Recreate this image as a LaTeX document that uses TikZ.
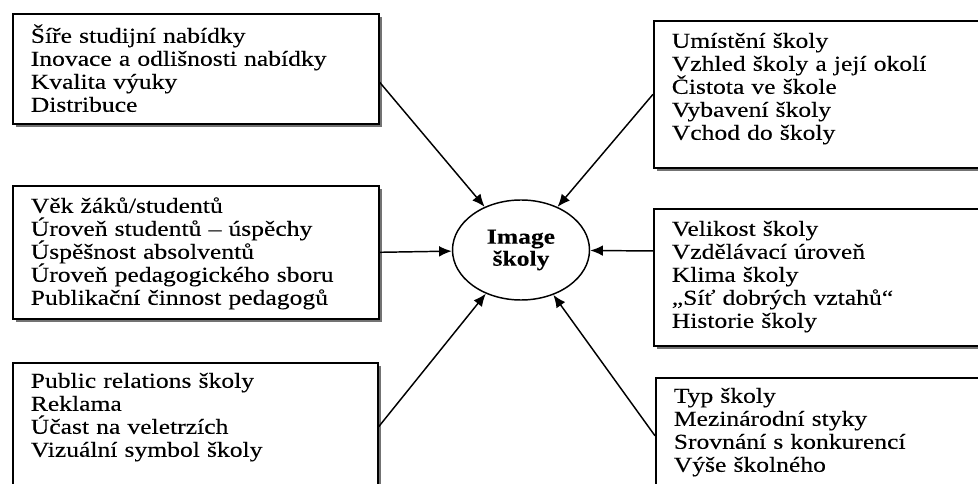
\documentclass[tikz,border=0pt]{standalone}
\usepackage{fontspec}
\setmainfont{Liberation Serif}[FakeStretch=1.2,FakeBold=0.15]
\usetikzlibrary{shapes.geometric,shadows,arrows.meta,calc}

\tikzset{every picture/.style={line width=1.1pt}}

\begin{document}
\begin{tikzpicture}[x=0.75pt,y=0.75pt,yscale=-1,xscale=1,
	factor/.style n args={3}{draw, line width=1.2pt, fill=white, anchor=north west, align=left,
		drop shadow={shadow xshift=2.25pt, shadow yshift=-2.25pt, fill=black!55, opacity=1},
		inner xsep=13.5pt, inner ysep=0pt, text width=#1, text height=#2, text depth=#3,
		font=\fontsize{16pt}{17.25pt}\selectfont},
	influence/.style={-{Latex[length=9.5pt,width=8pt]}, line width=1.1pt}]
		%set diagram left start at 0, and has height of 484
		\useasboundingbox (0,0) rectangle (978,484);

		%Shape: Ellipse [id:image]
		\node (image) [draw, ellipse, minimum width=102.75pt, minimum height=75pt, inner sep=0pt, align=center, font=\fontsize{16pt}{16.5pt}\selectfont\bfseries] at (521,250) {Image\\školy};

		%Shape: Rectangle [id:offer]
		\node (offer) [factor={247.5pt}{21.75pt}{60.75pt}] at (12,13) {Šíře studijní nabídky\\Inovace a odlišnosti nabídky\\Kvalita výuky\\Distribuce};
		%Shape: Rectangle [id:surroundings]
		\node (surroundings) [factor={225.75pt}{20.25pt}{90pt}] at (653,20) {Umístění školy\\Vzhled školy a její okolí\\Čistota ve škole\\Vybavení školy\\Vchod do školy};
		%Shape: Rectangle [id:people]
		\node (people) [factor={247.5pt}{20.25pt}{79.5pt}] at (12,185) {Věk žáků/studentů\\Úroveň studentů – úspěchy\\Úspěšnost absolventů\\Úroveň pedagogického sboru\\Publikační činnost pedagogů};
		%Shape: Rectangle [id:climate]
		\node (climate) [factor={225.75pt}{20.25pt}{82.5pt}] at (653,208) {Velikost školy\\Vzdělávací úroveň\\Klima školy\\„Síť dobrých vztahů“\\Historie školy};
		%Shape: Rectangle [id:promotion]
		\node (promotion) [factor={246.75pt}{18.75pt}{77.25pt}] at (12,362) {Public relations školy\\Reklama\\Účast na veletrzích\\Vizuální symbol školy};
		%Shape: Rectangle [id:standing]
		\node (standing) [factor={224.25pt}{18.75pt}{68.25pt}] at (655,377) {Typ školy\\Mezinárodní styky\\Srovnání s konkurencí\\Výše školného};

		%Straight Lines [id:arrows]
		\draw [influence] ($(offer.north east)!0.62!(offer.south east)$) -- (image);
		\draw [influence] (surroundings.west) -- (image);
		\draw [influence] (people.east) -- (image);
		\draw [influence] ($(climate.north west)!0.31!(climate.south west)$) -- (image);
		\draw [influence] (promotion.east) -- (image);
		\draw [influence] (standing.west) -- (image);

	\end{tikzpicture}
\end{document}
